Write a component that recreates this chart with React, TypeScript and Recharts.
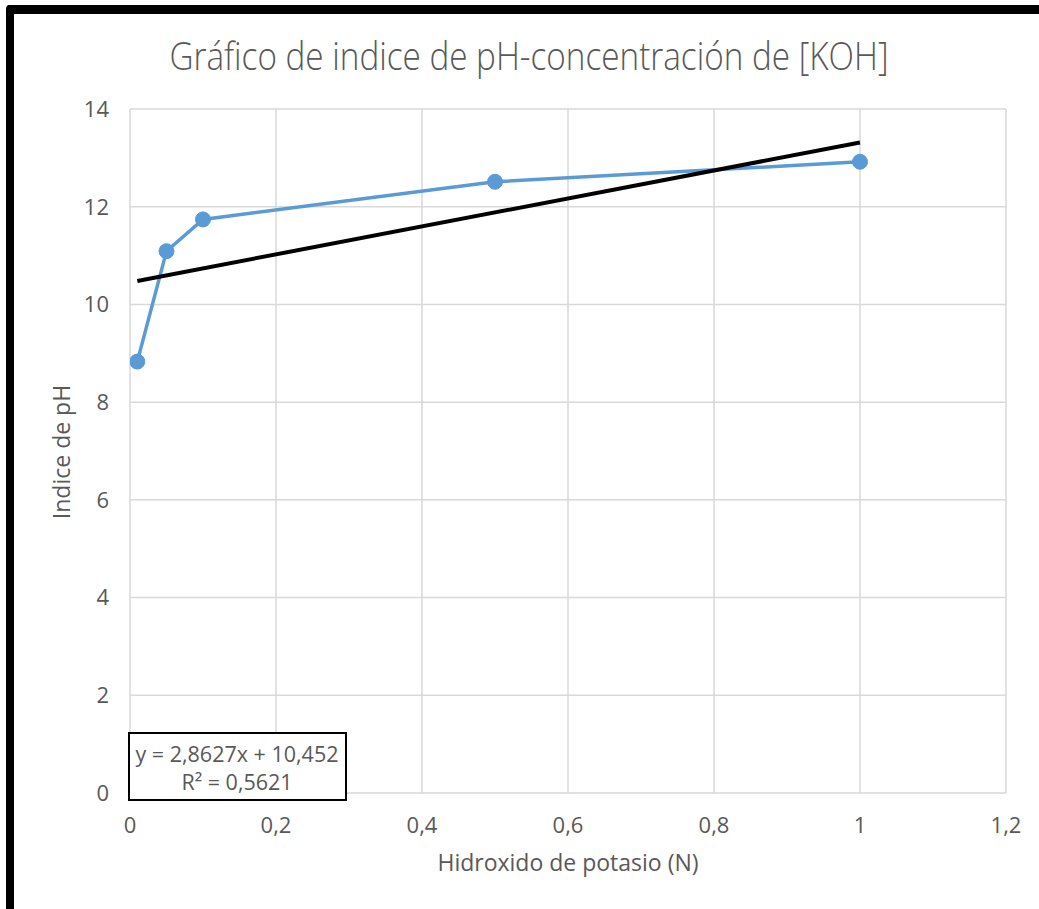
import React from 'react';
import { ComposedChart, Line, XAxis, YAxis, CartesianGrid } from 'recharts';

const concentrations = [0.01, 0.05, 0.1, 0.5, 1];
const phValues = [8.83, 11.09, 11.74, 12.51, 12.92];
const xTicks = [0, 0.2, 0.4, 0.6, 0.8, 1, 1.2];
const yTicks = [0, 2, 4, 6, 8, 10, 12, 14];
const trendSlope = 2.8627;
const trendIntercept = 10.452;
const trendXRange = [0.01, 1];

const titleText = 'Gráfico de indice de pH-concentración de [KOH]';
const xTitle = 'Hidroxido de potasio (N)';
const yTitle = 'Indice de pH';
const equationLine1 = 'y = 2,8627x + 10,452';
const equationLine2 = 'R² = 0,5621';

const seriesData = concentrations.map((x, i) => ({ x, ph: phValues[i] }));
const trendData = trendXRange.map((x) => ({ x, trend: trendSlope * x + trendIntercept }));

const FONT = '"Open Sans", "Noto Sans", sans-serif';
const TEXT = '#595959';
const fmt = (v: number) => String(v).replace('.', ',');

export default function App() {
  return (
    <div style={{ position: 'absolute', left: 0, top: 0, width: 1039, height: 909, overflow: 'hidden', background: '#fff' }}>
      <div
        style={{
          position: 'absolute',
          left: 6,
          top: 5,
          width: 1100,
          height: 902,
          borderTop: '9px solid #000',
          borderLeft: '8px solid #000',
          borderBottom: '9px solid #000',
          borderRadius: 4,
          boxSizing: 'content-box',
        }}
      />
      <div style={{ position: 'absolute', left: 0, top: 0 }}>
        <ComposedChart
          width={1039}
          height={909}
          margin={{ top: 109, right: 33, bottom: 86, left: 70 }}
        >
          <CartesianGrid stroke="#d9d9d9" strokeWidth={1.5} />
          <XAxis
            type="number"
            dataKey="x"
            domain={[0, 1.2]}
            ticks={xTicks}
            tickFormatter={fmt}
            axisLine={false}
            tickLine={false}
            tickSize={0}
            tickMargin={24}
            height={30}
            allowDataOverflow
            interval={0}
            tick={{ fill: TEXT, fontSize: 22, fontFamily: FONT }}
          />
          <YAxis
            type="number"
            domain={[0, 14]}
            ticks={yTicks}
            axisLine={false}
            tickLine={false}
            tickSize={0}
            tickMargin={21}
            width={60}
            interval={0}
            tick={{ fill: TEXT, fontSize: 22, fontFamily: FONT }}
          />
          <Line
            data={seriesData}
            dataKey="ph"
            type="linear"
            stroke="#5B9BD5"
            strokeWidth={3.5}
            dot={{ r: 7.5, fill: '#5B9BD5', stroke: '#5B9BD5', strokeWidth: 1 }}
            activeDot={false}
            isAnimationActive={false}
          />
          <Line
            data={trendData}
            dataKey="trend"
            type="linear"
            stroke="#000"
            strokeWidth={4}
            dot={false}
            activeDot={false}
            isAnimationActive={false}
          />
        </ComposedChart>
      </div>
      <svg width={1039} height={909} style={{ position: 'absolute', left: 0, top: 0, pointerEvents: 'none' }}>
        <text
          x={529}
          y={70}
          textAnchor="middle"
          fontFamily={FONT}
          fontWeight={300}
          fontSize={38}
          fill={TEXT}
          textLength={719}
          lengthAdjust="spacingAndGlyphs"
        >
          {titleText}
        </text>
        <text x={568} y={871} textAnchor="middle" fontFamily={FONT} fontSize={23} fill={TEXT}>
          {xTitle}
        </text>
        <text
          x={0}
          y={0}
          transform="translate(70 452) rotate(-90)"
          textAnchor="middle"
          fontFamily={FONT}
          fontSize={23}
          fill={TEXT}
        >
          {yTitle}
        </text>
        <rect x={129} y={733} width={217} height={67} fill="#fff" stroke="#000" strokeWidth={2} />
        <text x={237} y={762} textAnchor="middle" fontFamily={FONT} fontSize={21.5} fill={TEXT}>
          {equationLine1}
        </text>
        <text x={237} y={790} textAnchor="middle" fontFamily={FONT} fontSize={21.5} fill={TEXT}>
          {equationLine2}
        </text>
      </svg>
    </div>
  );
}
